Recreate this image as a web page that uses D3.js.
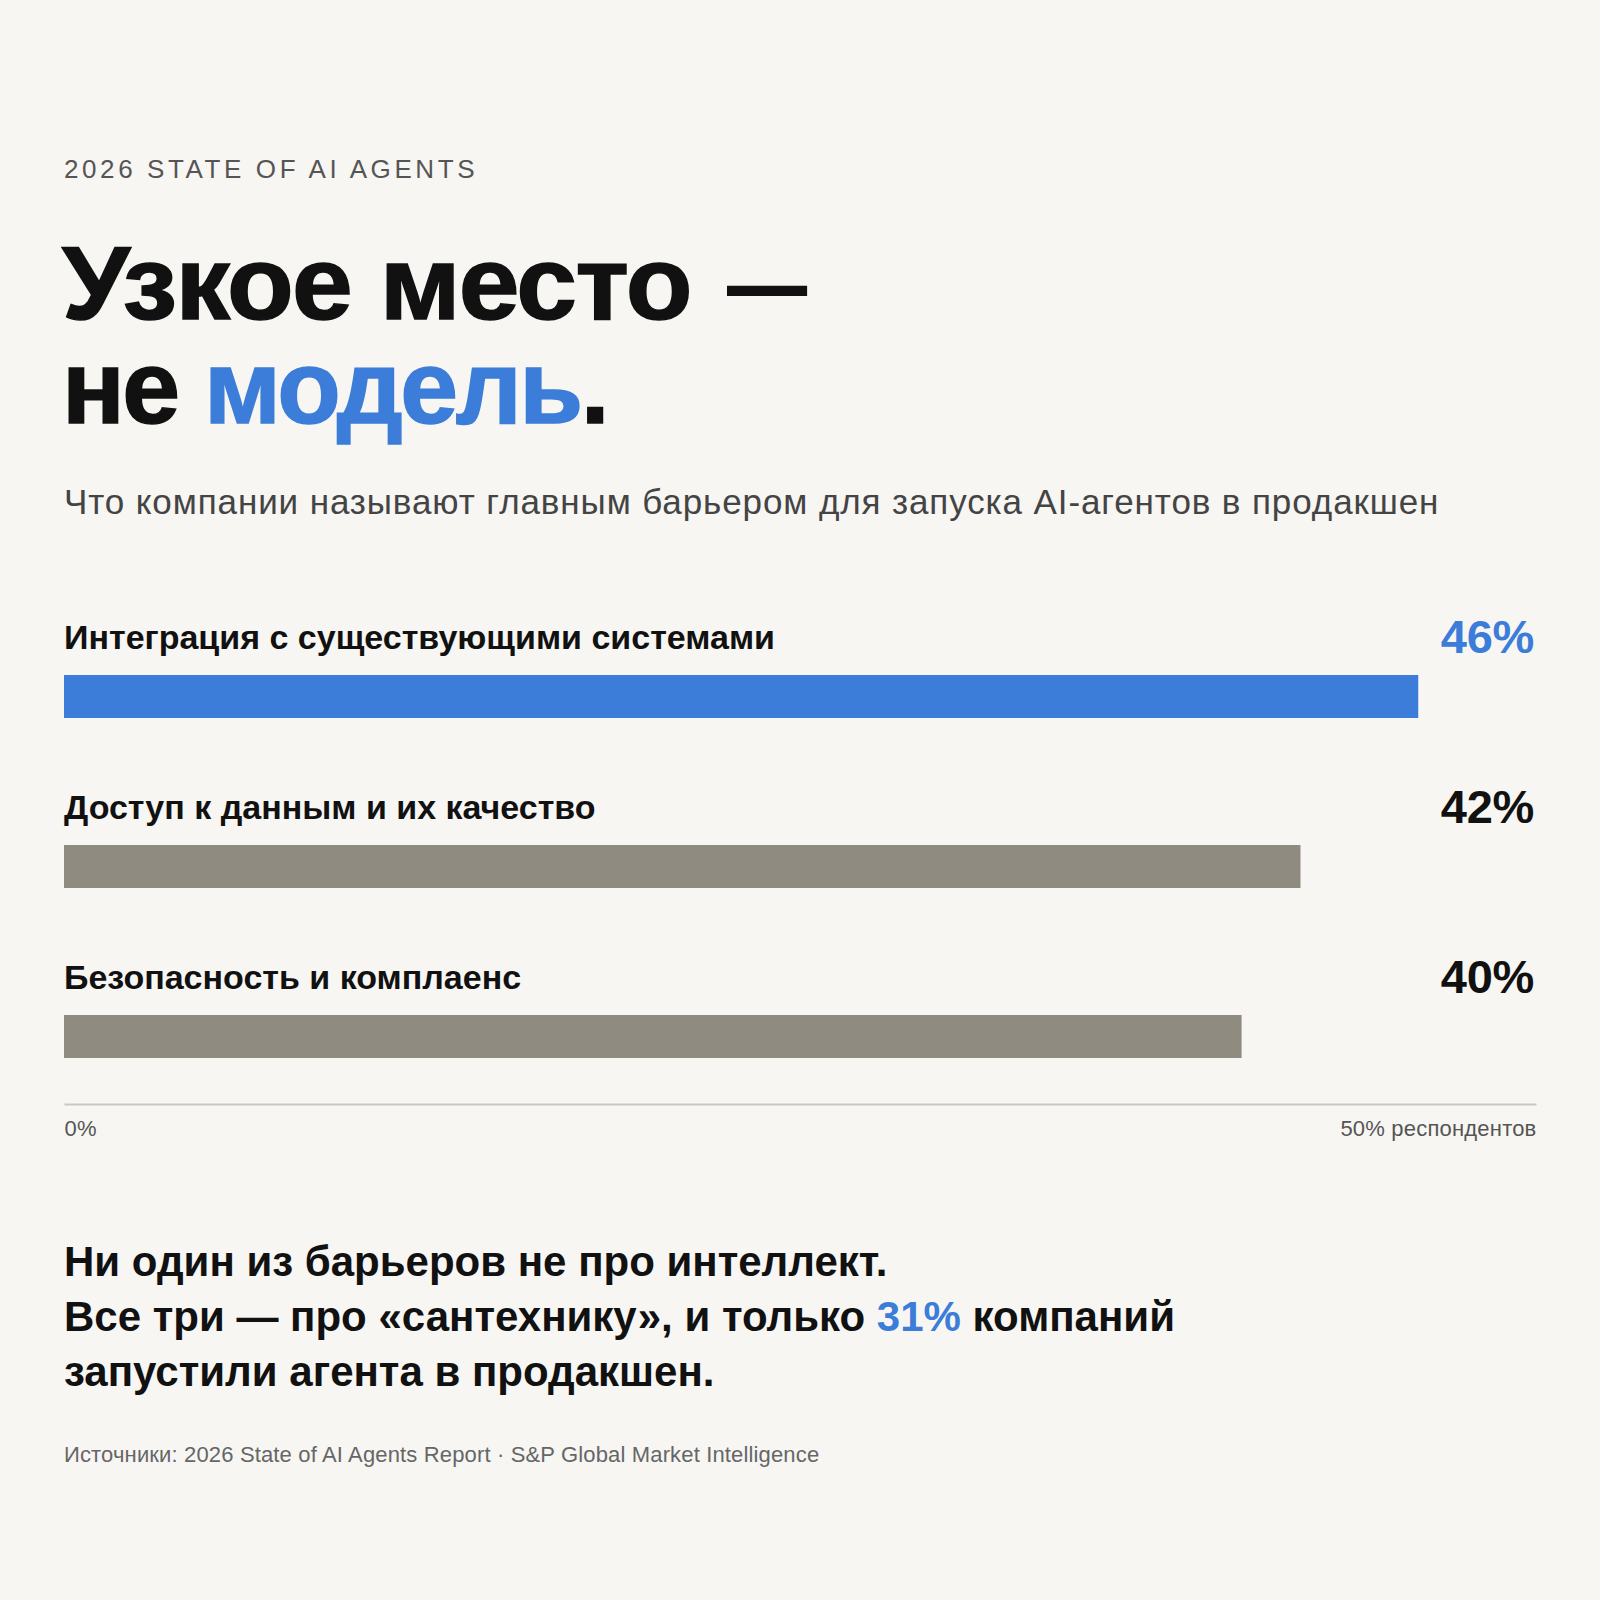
<!DOCTYPE html>
<html><head><meta charset="utf-8">
<script src="https://cdn.jsdelivr.net/npm/d3@7"></script>
<style>
html,body{margin:0;padding:0;background:#f7f6f3;}
svg{display:block;font-family:"Liberation Sans",Arial,Helvetica,sans-serif;}
</style></head>
<body><svg id="c" width="1600" height="1600"></svg>
<script>
const categories = ["Интеграция с существующими системами","Доступ к данным и их качество","Безопасность и комплаенс"];
const values = [46, 42, 40];
const highlighted = [true, false, false];
const axisTicks = [0, 50];
const axisTickLabels = ["0%", "50% респондентов"];
const kicker = "2026 STATE OF AI AGENTS";
const titleLine1 = "Узкое место";
const titleDash = "—";
const titleLine2a = "не ";
const titleLine2b = "модель";
const titleLine2c = ".";
const subtitle = "Что компании называют главным барьером для запуска AI-агентов в продакшен";
const conclusion = [
  [["Ни один из барьеров не про интеллект.", false]],
  [["Все три — про «сантехнику», и только ", false], ["31%", true], [" компаний", false]],
  [["запустили агента в продакшен.", false]]
];
const source = "Источники: 2026 State of AI Agents Report · S&P Global Market Intelligence";

const BLUE = "#3b7dd8", GRAY = "#8f8b80", INK = "#111111";
const svg = d3.select("#c");
svg.append("rect").attr("width",1600).attr("height",1600).attr("fill","#f7f6f3");

const L = 64, R = 1536;

svg.append("text").attr("x",L).attr("y",178).attr("font-size",26).attr("letter-spacing","3.6px")
  .attr("fill","#555").text(kicker);

svg.append("text").attr("transform",`translate(${L-2},319) scale(1.05,1)`).attr("font-size",104).attr("font-weight",700)
  .attr("letter-spacing","-1.6px").attr("fill",INK).attr("stroke",INK).attr("stroke-width",1.5)
  .text(titleLine1);
svg.append("text").attr("transform","translate(727,319) scale(0.77,1)").attr("font-size",104).attr("font-weight",700)
  .attr("fill",INK).text(titleDash);
const t2 = svg.append("text").attr("x",L-2).attr("y",423).attr("font-size",104).attr("font-weight",700)
  .attr("letter-spacing","-2.5px").attr("fill",INK).attr("stroke-width",1.5);
t2.append("tspan").attr("stroke",INK).text(titleLine2a);
t2.append("tspan").attr("fill",BLUE).attr("stroke",BLUE).text(titleLine2b);
t2.append("tspan").attr("stroke",INK).text(titleLine2c);

svg.append("text").attr("x",L).attr("y",514).attr("font-size",35).attr("letter-spacing","0.9px")
  .attr("fill","#444").text(subtitle);

const x = d3.scaleLinear().domain([0,50]).range([L,R]);
const y = d3.scaleBand().domain(categories).range([590,1100]);

const rows = svg.append("g").selectAll("g").data(categories).join("g")
  .attr("transform", d => `translate(0,${y(d)})`);
rows.append("text").attr("x",L).attr("y",59).attr("font-size",34).attr("font-weight",700)
  .attr("fill",INK).text(d => d);
rows.append("text").attr("x",R-2).attr("y",63).attr("text-anchor","end").attr("font-size",47).attr("font-weight",700)
  .attr("letter-spacing","-0.3px")
  .attr("fill",(d,i) => highlighted[i] ? BLUE : INK).text((d,i) => values[i] + "%");
rows.append("rect").attr("x",x(0)).attr("y",85).attr("height",43)
  .attr("width",(d,i) => x(values[i]) - x(0))
  .attr("fill",(d,i) => highlighted[i] ? BLUE : GRAY);

const axis = d3.axisBottom(x).tickValues(axisTicks).tickSize(0).tickPadding(0)
  .tickFormat((d,i) => axisTickLabels[i]);
const ag = svg.append("g").attr("transform","translate(0,1104)").call(axis);
ag.select(".domain").attr("stroke","#c9c7c1").attr("stroke-width",2);
ag.selectAll(".tick text").attr("font-family","inherit").attr("font-size",22).attr("fill","#555")
  .attr("y",32).attr("dy",null).attr("letter-spacing","0.2px")
  .attr("text-anchor",(d,i) => i===0 ? "start" : "end");

const cg = svg.append("g");
conclusion.forEach((line, li) => {
  const t = cg.append("text").attr("x",L).attr("y",1276 + li*55).attr("font-size",42).attr("font-weight",700)
    .attr("fill",INK);
  line.forEach(([s,hl]) => t.append("tspan").attr("fill", hl ? BLUE : INK).text(s));
});

svg.append("text").attr("x",L).attr("y",1462).attr("font-size",22).attr("letter-spacing","0.15px")
  .attr("fill","#666").text(source);
</script></body></html>
